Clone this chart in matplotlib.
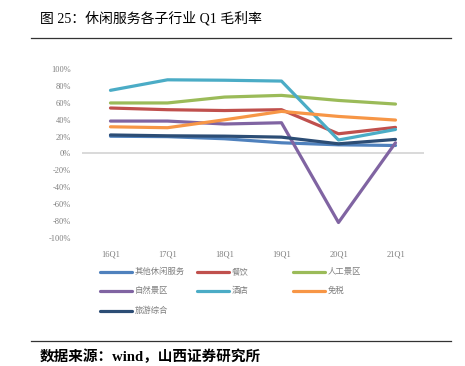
import numpy as np
import matplotlib.pyplot as plt
from matplotlib.lines import Line2D

plt.rcParams['font.family'] = ['Liberation Serif', 'Noto Sans CJK SC', 'DejaVu Sans']

# data (Q1 gross margin, %)
quarters = ["16Q1", "17Q1", "18Q1", "19Q1", "20Q1", "21Q1"]
other_leisure = [20.5, 20.0, 17.5, 12.7, 10.3, 9.5]      # 其他休闲服务
catering = [54.0, 52.0, 51.0, 52.0, 23.4, 31.0]          # 餐饮
artificial_scenic = [60.0, 60.0, 67.0, 69.0, 63.0, 58.7] # 人工景区
natural_scenic = [38.5, 38.5, 35.0, 36.5, -82.0, 12.7]   # 自然景区
hotel = [75.0, 87.5, 87.0, 86.0, 16.0, 28.5]             # 酒店
duty_free = [31.7, 30.6, 40.0, 50.0, 44.0, 39.7]         # 免税
tourism = [22.0, 21.0, 20.6, 19.4, 11.5, 16.7]           # 旅游综合

series = [
    ("其他休闲服务", other_leisure, "#4F81BD"),
    ("餐饮", catering, "#C0504D"),
    ("人工景区", artificial_scenic, "#9BBB59"),
    ("自然景区", natural_scenic, "#8064A2"),
    ("酒店", hotel, "#4BACC6"),
    ("免税", duty_free, "#F79646"),
    ("旅游综合", tourism, "#2C4D75"),
]

W, H = 465, 366
fig = plt.figure(figsize=(W / 100, H / 100), dpi=100)
ax = fig.add_axes([0.1763, 0.3506, 0.7355, 0.4601])

x = np.arange(len(quarters))
for name, vals, col in series:
    ax.plot(x, vals, color=col, lw=2.3, solid_capstyle='round', solid_joinstyle='round')

ax.axhline(0, color="#D9D9D9", lw=1.4, zorder=0)
ax.set_xlim(-0.5, len(quarters) - 0.5)
ax.set_ylim(-100, 100)
ax.set_yticks(np.arange(-100, 101, 20))
ax.set_yticklabels([f"{v}%" for v in range(-100, 101, 20)])
ax.set_xticks(x)
ax.set_xticklabels(quarters)
for s in ax.spines.values():
    s.set_visible(False)
ax.tick_params(length=0, labelsize=6, colors="#7F7F7F")
ax.tick_params(axis='y', pad=8)
ax.tick_params(axis='x', pad=9)

# legend laid out row by row, 3 per row (pixel positions)
col_x = [100, 197, 293]
row_y = [271.7, 291, 311]
for i, (name, _, col) in enumerate(series):
    r, c = divmod(i, 3)
    x0 = col_x[c]
    y0 = 1 - row_y[r] / H
    fig.add_artist(Line2D([x0 / W, (x0 + 32) / W], [y0, y0], color=col, lw=2.3,
                          solid_capstyle='round'))
    fig.text((x0 + 35) / W, y0, name, fontsize=6, color="#7F7F7F", va='center', ha='left')

# title and rules
fig.text(40 / W, 1 - 18 / H, "图 25：休闲服务各子行业 Q1 毛利率", fontsize=10, va='center', ha='left')
fig.add_artist(Line2D([31 / W, 451 / W], [1 - 38 / H, 1 - 38 / H], color="#333333", lw=0.9))
fig.add_artist(Line2D([31 / W, 451 / W], [1 - 341 / H, 1 - 341 / H], color="#333333", lw=0.9))
fig.text(40 / W, 1 - 357 / H, "数据来源：wind，山西证券研究所", fontsize=10.5, fontweight='bold',
         va='center', ha='left')

fig.savefig("out.png", dpi=100)
